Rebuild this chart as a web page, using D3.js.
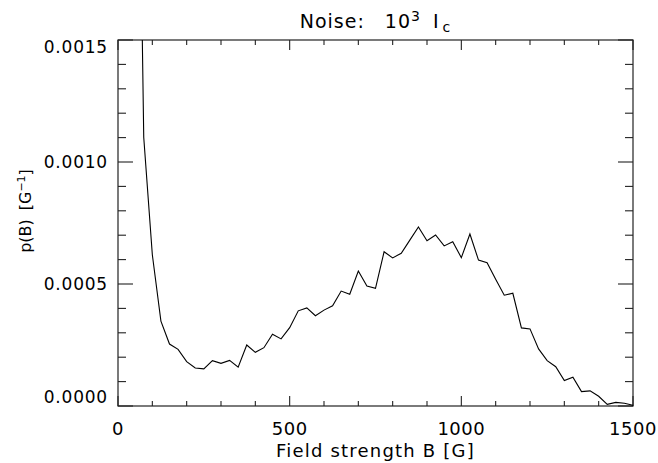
<!DOCTYPE html>
<html>
<head>
<meta charset="utf-8">
<script src="https://cdn.jsdelivr.net/npm/d3@7"></script>
<style>
  body { margin: 0; background: #fff; }
  text { font-family: "DejaVu Sans", sans-serif; fill: #000; }
  .line { fill: none; stroke: #000; stroke-width: 1.1; }
  .frame { fill: none; stroke: #222; stroke-width: 1.2; }
  .tick { stroke: #222; stroke-width: 1.1; }
</style>
</head>
<body>
<div id="chart"></div>
<script>
// field strength bins [G]
var field = [50, 75, 100, 125, 150, 175, 200, 225, 250, 275, 300, 325, 350, 375, 400,
  425, 450, 475, 500, 525, 550, 575, 600, 625, 650, 675, 700, 725, 750, 775, 800,
  825, 850, 875, 900, 925, 950, 975, 1000, 1025, 1050, 1075, 1100, 1125, 1150, 1175,
  1200, 1225, 1250, 1275, 1300, 1325, 1350, 1375, 1400, 1425, 1450, 1475, 1500];

// p(B) [1/G]
var prob = [0.0035, 0.00110, 0.00062, 0.000348, 0.000254, 0.000232, 0.000182, 0.000156,
  0.000152, 0.000186, 0.000175, 0.000187, 0.000159, 0.000250, 0.000220, 0.000239,
  0.000294, 0.000275, 0.000321, 0.000390, 0.000402, 0.000370, 0.000393, 0.000411,
  0.000471, 0.000458, 0.000553, 0.000492, 0.000482, 0.000632, 0.000607, 0.000626,
  0.000680, 0.000734, 0.000677, 0.000701, 0.000656, 0.000673, 0.000608, 0.000705,
  0.000598, 0.000587, 0.000519, 0.000454, 0.000462, 0.000320, 0.000316, 0.000234,
  0.000186, 0.000161, 0.000104, 0.000118, 0.000059, 0.000062, 0.000040, 0.000007,
  0.000015, 0.000011, 0.000003];

var xTicks = [0, 500, 1000, 1500];
var yTicks = [0.0000, 0.0005, 0.0010, 0.0015];

// canvas
var margin = {top: 40, right: 25, bottom: 57, left: 118},
    width = 658 - margin.left - margin.right,
    height = 463 - margin.top - margin.bottom;

var x = d3.scaleLinear().domain([0, 1500]).range([0, width]);
var y = d3.scaleLinear().domain([0, 0.0015]).range([height, 0]);

var svg = d3.select("#chart").append("svg")
    .attr("width", 658)
    .attr("height", 463);

var g = svg.append("g")
    .attr("transform", "translate(" + margin.left + "," + margin.top + ")");

g.append("clipPath").attr("id", "clip")
  .append("rect").attr("width", width).attr("height", height);

// minor + major ticks on all four sides (IDL style, pointing inwards)
var xMinor = d3.range(0, 1501, 100);
var yMinor = d3.range(0, 16).map(function(i) { return i * 0.0001; });

function isMajorX(v) { return v % 500 === 0; }
function isMajorY(v) { return Math.abs(Math.round(v * 10000) % 5) === 0; }

var ticks = g.append("g");
ticks.selectAll(".xb").data(xMinor).enter().append("line")
    .attr("class", "tick")
    .attr("x1", function(d) { return x(d); }).attr("x2", function(d) { return x(d); })
    .attr("y1", height).attr("y2", function(d) { return height - (isMajorX(d) ? 10 : 5); });
ticks.selectAll(".xt").data(xMinor).enter().append("line")
    .attr("class", "tick")
    .attr("x1", function(d) { return x(d); }).attr("x2", function(d) { return x(d); })
    .attr("y1", 0).attr("y2", function(d) { return isMajorX(d) ? 10 : 5; });
ticks.selectAll(".yl").data(yMinor).enter().append("line")
    .attr("class", "tick")
    .attr("y1", function(d) { return y(d); }).attr("y2", function(d) { return y(d); })
    .attr("x1", 0).attr("x2", function(d) { return isMajorY(d) ? 15 : 8; });
ticks.selectAll(".yr").data(yMinor).enter().append("line")
    .attr("class", "tick")
    .attr("y1", function(d) { return y(d); }).attr("y2", function(d) { return y(d); })
    .attr("x1", width).attr("x2", function(d) { return width - (isMajorY(d) ? 15 : 8); });

g.append("rect")
    .attr("class", "frame")
    .attr("width", width)
    .attr("height", height);

// tick labels
g.selectAll(".xl").data(xTicks).enter().append("text")
    .attr("x", function(d) { return x(d); })
    .attr("y", height + 29)
    .attr("text-anchor", "middle")
    .style("font-size", "18px")
    .style("letter-spacing", "0.5px")
    .text(function(d) { return d; });

g.selectAll(".yl").data(yTicks).enter().append("text")
    .attr("x", -10)
    .attr("y", function(d) { return Math.max(7, Math.min(height - 9, y(d))); })
    .attr("dy", "0.35em")
    .attr("text-anchor", "end")
    .style("font-size", "17px")
    .style("letter-spacing", "0.8px")
    .text(function(d) { return d3.format(".4f")(d); });

// axis titles
svg.append("text")
    .attr("x", margin.left + width / 2)
    .attr("y", 457)
    .attr("text-anchor", "middle")
    .style("font-size", "18px")
    .style("letter-spacing", "1.2px")
    .text("Field strength B [G]");

var yl = svg.append("text")
    .attr("text-anchor", "middle")
    .attr("transform", "translate(31,211)rotate(-90)")
    .style("font-size", "16px");
yl.append("tspan").text("p(B)");
yl.append("tspan").attr("dx", 9).text("[G");
yl.append("tspan").attr("dy", -6).style("font-size", "11px").text("\u22121");
yl.append("tspan").attr("dy", 6).text("]");

// chart title
var title = svg.append("text")
    .attr("x", margin.left + width / 2)
    .attr("y", 28)
    .attr("text-anchor", "middle")
    .style("font-size", "19px")
    .style("letter-spacing", "1px");
title.append("tspan").text("Noise:");
title.append("tspan").attr("dx", 20).text("10");
title.append("tspan").attr("dy", -7).style("font-size", "14px").text("3");
title.append("tspan").attr("dx", 12).attr("dy", 7).text("I");
title.append("tspan").attr("dx", 3).attr("dy", 4).style("font-size", "14px").text("c");

// data line
var line = d3.line()
    .x(function(d, i) { return x(field[i]); })
    .y(function(d) { return y(d); });

g.append("path")
    .datum(prob)
    .attr("class", "line")
    .attr("clip-path", "url(#clip)")
    .attr("d", line);
</script>
</body>
</html>
